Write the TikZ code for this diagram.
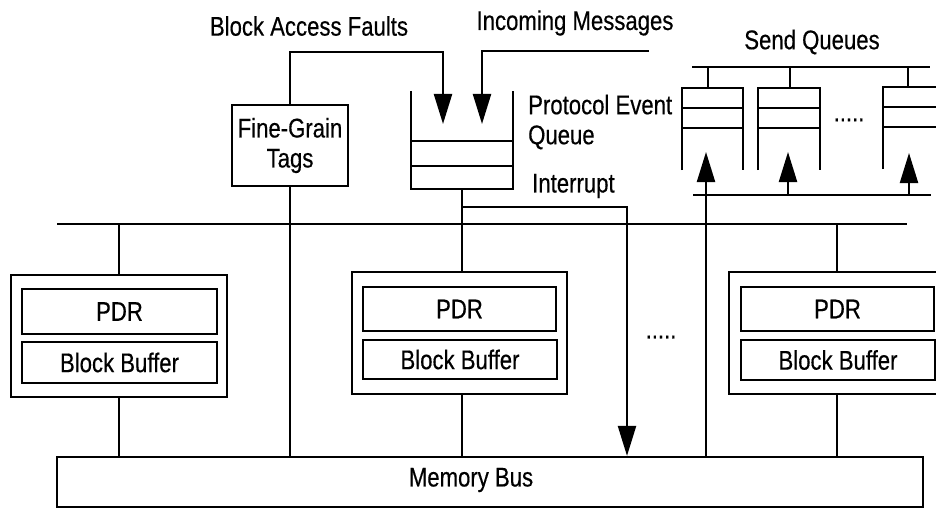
\documentclass[tikz,border=0pt]{standalone}
\usepackage{fontspec}
\setmainfont[FakeStretch=0.82,FakeBold=0.4]{Liberation Sans}
\usetikzlibrary{arrows.meta,calc}

\begin{document}
\begin{tikzpicture}[x=1pt,y=-1pt,
  wire/.style={line width=2.2pt},
  box/.style={draw,line width=2.2pt,inner sep=0pt},
  lbl/.style={inner sep=0pt,font=\fontsize{27}{30}\selectfont},
  big/.style={-{Triangle[length=30pt,width=18pt]}},
  hollow/.style={inner sep=0pt,minimum width=61pt,minimum height=82pt}
]
\useasboundingbox (0,0) rectangle (936,508);

% ---- memory bus -------------------------------------------------------
\node[box,minimum width=866pt,minimum height=50pt] (mem) at (490,482) {};
\node[lbl] (memtxt) at (471,480) {Memory Bus};

% ---- processing nodes ---------------------------------------------------
\node[box,minimum width=216pt,minimum height=122pt] (p1) at (119,336) {};
\node[box,lbl,minimum width=195pt,minimum height=45pt] (pdr1) at (119.5,311.5) {PDR};
\node[box,lbl,minimum width=195pt,minimum height=41pt] (bb1) at (119.5,362.5) {Block Buffer};

\node[box,minimum width=215pt,minimum height=122pt] (p2) at (459.5,333) {};
\node[box,lbl,minimum width=193pt,minimum height=44pt] (pdr2) at (459.5,309) {PDR};
\node[box,lbl,minimum width=194pt,minimum height=39pt] (bb2) at (460,359.5) {Block Buffer};

\node[box,minimum width=216pt,minimum height=122pt] (p3) at (837,333) {};
\node[box,lbl,minimum width=193pt,minimum height=44pt] (pdr3) at (837.5,309) {PDR};
\node[box,lbl,minimum width=194pt,minimum height=40pt] (bb3) at (838,360) {Block Buffer};

\node[lbl] (dotsP) at (661,337) {.....};

% ---- processor bus ------------------------------------------------------
\coordinate (busL) at (57,224);
\coordinate (busR) at (907,224);
\draw[wire] (busL) -- (busR);

% ---- fine-grain tags ----------------------------------------------------
\node[box,lbl,align=center,minimum width=116pt,minimum height=81pt] (tags) at (290,145.5) {Fine-Grain\\Tags};
\draw[wire] (tags.south) -- (tags.south |- mem.north);

% ---- protocol event queue -----------------------------------------------
\node[inner sep=0pt,minimum width=102pt,minimum height=98pt] (peq) at (462,140) {};
\draw[wire] (peq.north west) -- (peq.south west) -- (peq.south east) -- (peq.north east);
\draw[wire] ($(peq.north west)+(0,50)$) -- ($(peq.north east)+(0,50)$);
\draw[wire] ($(peq.north west)+(0,75)$) -- ($(peq.north east)+(0,75)$);
\node[lbl,align=left,anchor=west] (peqtxt) at (528,122) {Protocol Event\\Queue};

% block access faults
\coordinate (bafturn) at (443,52);
\coordinate (baf) at (443,124);
\draw[wire,big] (tags.north) |- (bafturn) -- (baf);
\node[lbl] (baftxt) at (309,26) {Block Access Faults};

% incoming messages
\coordinate (inmsrc) at (649,51);
\coordinate (inm) at (482,124);
\draw[wire,big] (inmsrc) -| (inm);
\node[lbl] (inmtxt) at (575,23) {Incoming Messages};

% queue to processor, interrupt to memory bus
\draw[wire] (peq.south) -- (peq.south |- p2.north);
\draw[wire] (peq.south |- p2.south) -- (peq.south |- mem.north);
\coordinate (irq) at (627,207);
\draw[wire,big] (peq.south |- irq) -- (irq) -- (irq |- mem.north);
\node[lbl,anchor=west] (irqtxt) at (532,186) {Interrupt};

% ---- node-to-bus links --------------------------------------------------
\draw[wire] (p1.north |- busL) -- (p1.north);
\draw[wire] (p1.south) -- (p1.south |- mem.north);
\draw[wire] (p3.north |- busL) -- (p3.north);
\draw[wire] (p3.south) -- (p3.south |- mem.north);

% ---- send queues ----------------------------------------------------------
\node[hollow] (sq1) at (712.5,129) {};
\node[hollow] (sq2) at (789,129) {};
\node[hollow] (sq3) at (913.5,128) {};
\foreach \q in {sq1,sq2,sq3}{
  \draw[wire] (\q.south west) -- (\q.north west) -- (\q.north east) -- (\q.south east);
  \draw[wire] ($(\q.north west)+(0,20)$) -- ($(\q.north east)+(0,20)$);
  \draw[wire] ($(\q.north west)+(0,40)$) -- ($(\q.north east)+(0,40)$);
}
\node[lbl] (dotsQ) at (849,120) {.....};
\node[lbl] (sqtxt) at (812,42) {Send Queues};

\coordinate (sqtl) at (692,67);
\coordinate (sqtr) at (930,67);
\draw[wire] (sqtl) -- (sqtr);
\coordinate (st1) at (708,67);
\coordinate (st2) at (790,67);
\coordinate (st3) at (908,67);
\draw[wire] (st1) -- (st1 |- sq1.north);
\draw[wire] (st2) -- (st2 |- sq2.north);
\draw[wire] (st3) -- (st3 |- sq3.north);

\coordinate (sqbl) at (693,195);
\coordinate (sqbr) at (931,195);
\draw[wire] (sqbl) -- (sqbr);
\coordinate (a1) at (706,152);
\coordinate (a2) at (788,152);
\coordinate (a3) at (909,153);
\draw[wire,big] (a1 |- mem.north) -- (a1);
\draw[wire,big] (a2 |- sqbl) -- (a2);
\draw[wire,big] (a3 |- sqbl) -- (a3);
\end{tikzpicture}
\end{document}
